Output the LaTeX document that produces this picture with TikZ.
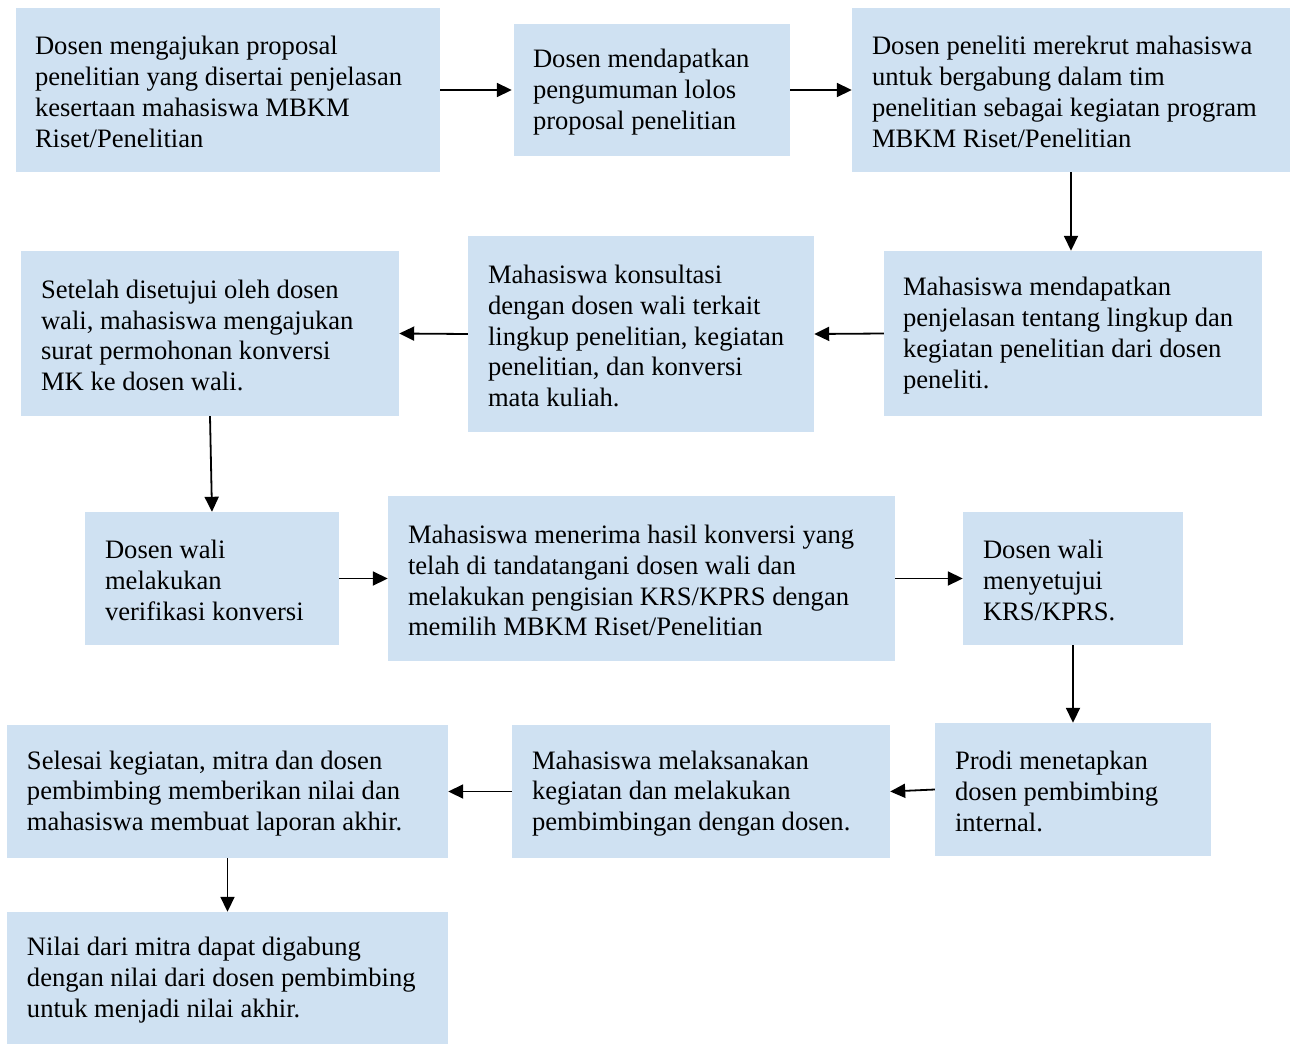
\documentclass[tikz,border=0pt]{standalone}
\usepackage{fontspec}
\setmainfont{Liberation Serif}
\usetikzlibrary{arrows.meta}
\definecolor{boxblue}{RGB}{207,225,242}
\tikzset{
  box/.style={fill=boxblue, draw=none, inner sep=0pt, anchor=center},
  txt/.style={anchor=west, align=left, inner sep=0pt, yshift=-2pt, font=\fontsize{26.6}{30.8}\selectfont},
  conn/.style={line width=1.8pt, -{Triangle[length=15pt,width=14pt]}}
}
\begin{document}
\begin{tikzpicture}[x=1pt,y=-1pt]
\useasboundingbox (0,0) rectangle (1291,1044);
% boxes
\node[box, minimum width=424pt, minimum height=164pt] (A) at (228,90) {};
\node[box, minimum width=276pt, minimum height=132pt] (B) at (652,90) {};
\node[box, minimum width=438pt, minimum height=164pt] (C) at (1071,90) {};
\node[box, minimum width=378pt, minimum height=165pt] (D) at (1073,333.5) {};
\node[box, minimum width=346pt, minimum height=196pt] (E) at (641,334) {};
\node[box, minimum width=378pt, minimum height=165pt] (F) at (210,333.5) {};
\node[box, minimum width=254pt, minimum height=133pt] (G) at (212,578.5) {};
\node[box, minimum width=507pt, minimum height=165pt] (H) at (641.5,578.5) {};
\node[box, minimum width=220pt, minimum height=133pt] (I) at (1073,578.5) {};
\node[box, minimum width=276pt, minimum height=133pt] (J) at (1073,789.5) {};
\node[box, minimum width=378pt, minimum height=133pt] (K) at (701,791.5) {};
\node[box, minimum width=441pt, minimum height=133pt] (L) at (227.5,791.5) {};
\node[box, minimum width=441pt, minimum height=132pt] (M) at (227.5,978) {};
% texts
\node[txt] (tA) at ([xshift=19pt]A.west) {Dosen mengajukan proposal\\penelitian yang disertai penjelasan\\kesertaan mahasiswa MBKM\\Riset/Penelitian};
\node[txt] (tB) at ([xshift=19pt]B.west) {Dosen mendapatkan\\pengumuman lolos\\proposal penelitian};
\node[txt] (tC) at ([xshift=20pt]C.west) {Dosen peneliti merekrut mahasiswa\\untuk bergabung dalam tim\\penelitian sebagai kegiatan program\\MBKM Riset/Penelitian};
\node[txt] (tD) at ([xshift=19pt]D.west) {Mahasiswa mendapatkan\\penjelasan tentang lingkup dan\\kegiatan penelitian dari dosen\\peneliti.};
\node[txt] (tE) at ([xshift=20pt]E.west) {Mahasiswa konsultasi\\dengan dosen wali terkait\\lingkup penelitian, kegiatan\\penelitian, dan konversi\\mata kuliah.};
\node[txt] (tF) at ([xshift=20pt]F.west) {Setelah disetujui oleh dosen\\wali, mahasiswa mengajukan\\surat permohonan konversi\\MK ke dosen wali.};
\node[txt] (tG) at ([xshift=20pt]G.west) {Dosen wali\\melakukan\\verifikasi konversi};
\node[txt] (tH) at ([xshift=20pt]H.west) {Mahasiswa menerima hasil konversi yang\\telah di tandatangani dosen wali dan\\melakukan pengisian KRS/KPRS dengan\\memilih MBKM Riset/Penelitian};
\node[txt] (tI) at ([xshift=20pt]I.west) {Dosen wali\\menyetujui\\KRS/KPRS.};
\node[txt] (tJ) at ([xshift=20pt]J.west) {Prodi menetapkan\\dosen pembimbing\\internal.};
\node[txt] (tK) at ([xshift=20pt]K.west) {Mahasiswa melaksanakan\\kegiatan dan melakukan\\pembimbingan dengan dosen.};
\node[txt] (tL) at ([xshift=20pt]L.west) {Selesai kegiatan, mitra dan dosen\\pembimbing memberikan nilai dan\\mahasiswa membuat laporan akhir.};
\node[txt] (tM) at ([xshift=20pt]M.west) {Nilai dari mitra dapat digabung\\dengan nilai dari dosen pembimbing\\untuk menjadi nilai akhir.};
% connectors
\draw[conn] (A.east) -- ([xshift=-2pt]B.west);
\draw[conn] (B.east) -- (C.west);
\draw[conn] (C.south) -- (C.south |- D.north);
\draw[conn] (D.west) -- (E.east);
\draw[conn] (E.west) -- (F.east);
\draw[conn] (F.south) -- (G.north);
\draw[conn] (G.east) -- (G.east -| H.west);
\draw[conn] (H.east) -- (H.east -| I.west);
\draw[conn] (I.south) -- (J.north);
\draw[conn] (J.west) -- (K.east);
\draw[conn] (K.west) -- (K.west -| L.east);
\draw[conn] (L.south) -- (M.north);
\end{tikzpicture}
\end{document}
